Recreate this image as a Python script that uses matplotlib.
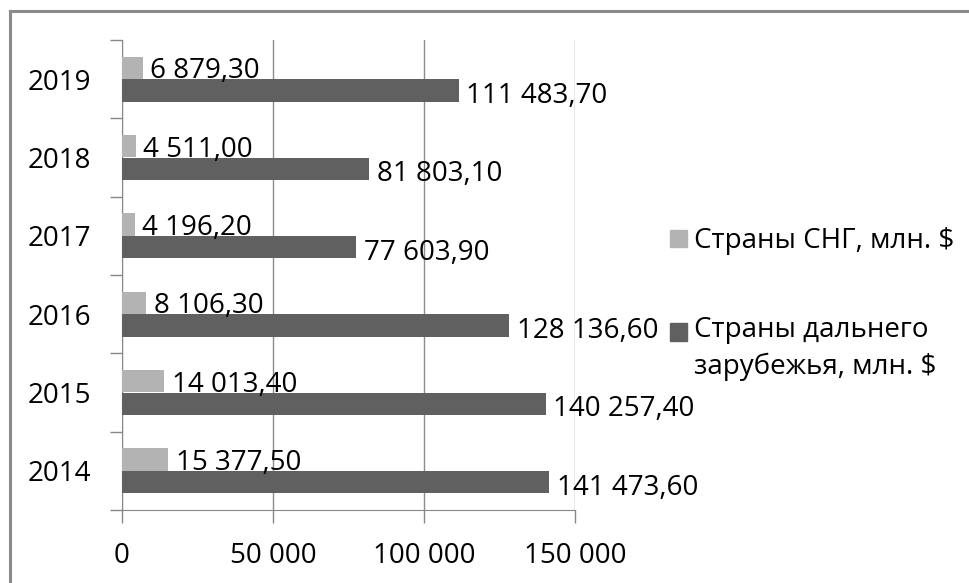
import matplotlib
matplotlib.use("Agg")
import matplotlib.pyplot as plt
from matplotlib.lines import Line2D
from matplotlib.patches import Rectangle
from matplotlib.legend_handler import HandlerPatch
import numpy as np

plt.rcParams['font.family'] = ['Open Sans', 'DejaVu Sans']

# data
years = ["2014", "2015", "2016", "2017", "2018", "2019"]
cis = [15377.5, 14013.4, 8106.3, 4196.2, 4511.0, 6879.3]
far_abroad = [141473.6, 140257.4, 128136.6, 77603.9, 81803.1, 111483.7]
series_names = ["Страны СНГ, млн. $", "Страны дальнего\nзарубежья, млн. $"]
x_ticks = [0, 50000, 100000, 150000]

light = "#b3b3b3"
dark = "#606060"


def ru_fmt(v, decimals=2):
    s = f"{v:,.{decimals}f}"
    return s.replace(",", " ").replace(".", ",")


fig = plt.figure(figsize=(9.7, 5.83), dpi=100)
ax = fig.add_axes([122 / 970, 1 - 510 / 583, 453 / 970, 470 / 583])

y = np.arange(len(years))
h = 0.285
off = 0.145
b1 = ax.barh(y + off, cis, height=h, color=light, zorder=3)
b2 = ax.barh(y - off, far_abroad, height=h, color=dark, zorder=3)

fs = 20
for bars, vals, dy in [(b1, cis, -2.5), (b2, far_abroad, -4)]:
    for rect, v in zip(bars, vals):
        ax.annotate(ru_fmt(v), (rect.get_width(), rect.get_y() + rect.get_height() / 2),
                    xytext=(5.5, dy), textcoords="offset points", ha="left", va="center",
                    fontsize=fs, color="black", zorder=5)

ax.set_xlim(0, 150000)
ax.set_ylim(-0.5, len(years) - 0.5)
ax.set_xticks(x_ticks)
ax.set_xticklabels([ru_fmt(t, 0) for t in x_ticks], fontsize=fs)
ax.set_yticks(y)
ax.set_yticklabels(years, fontsize=fs)
ax.set_yticks(np.arange(-0.5, len(years)), minor=True)
ax.tick_params(axis="y", which="major", length=0, pad=22)
ax.tick_params(axis="y", which="minor", length=9, color="#888888", width=1)
ax.tick_params(axis="x", length=9, color="#888888", width=1, pad=14)
ax.grid(axis="x", color="#8c8c8c", linewidth=1, zorder=0)
for s in ["top", "right"]:
    ax.spines[s].set_visible(False)
ax.spines["left"].set_color("#888888")
ax.spines["bottom"].set_color("#888888")


# legend marker of the two-line entry sits on its first line
def top_line_patch(legend, orig_handle, xdescent, ydescent, width, height, fontsize):
    return Rectangle((-xdescent, -ydescent + 12.5), width, height)


h1 = Rectangle((0, 0), 1, 1, color=light)
h2 = Rectangle((0, 0), 1, 1, color=dark)
leg = ax.legend([h1, h2], series_names, loc="upper left", bbox_to_anchor=(1.155, 0.655),
                frameon=False, fontsize=fs, handlelength=0.6, handleheight=0.6,
                handletextpad=0.25, labelspacing=2.2,
                handler_map={h2: HandlerPatch(patch_func=top_line_patch)})
for t in leg.get_texts():
    t.set_linespacing(1.4)

# outer chart border
fig.add_artist(Line2D([10 / 970, 1], [1 - 11 / 583, 1 - 11 / 583], color="#8a8a8a", lw=2.2, transform=fig.transFigure))
fig.add_artist(Line2D([10 / 970, 10 / 970], [0, 1 - 11 / 583], color="#8a8a8a", lw=2.2, transform=fig.transFigure))

fig.savefig("out.png", dpi=100)
